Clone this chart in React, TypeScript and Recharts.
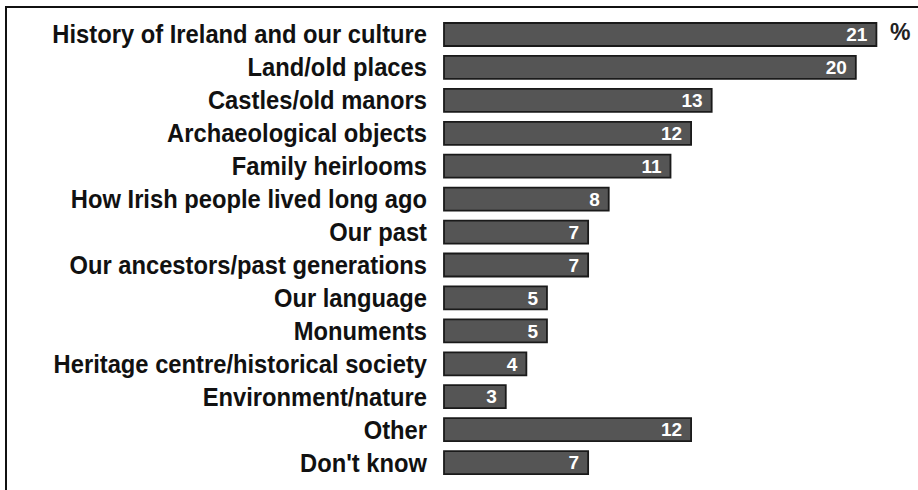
import { BarChart, Bar, XAxis, YAxis, LabelList } from "recharts";

const categories = [
  "History of Ireland and our culture",
  "Land/old places",
  "Castles/old manors",
  "Archaeological objects",
  "Family heirlooms",
  "How Irish people lived long ago",
  "Our past",
  "Our ancestors/past generations",
  "Our language",
  "Monuments",
  "Heritage centre/historical society",
  "Environment/nature",
  "Other",
  "Don't know",
];
const percents = [21, 20, 13, 12, 11, 8, 7, 7, 5, 5, 4, 3, 12, 7];

const data = categories.map((label, i) => ({ label, pct: percents[i] }));

const FONT = "'Liberation Sans', Arial, sans-serif";

// condensed look: ordinary bold face squeezed horizontally
function CondensedTick(props: any) {
  const { x, y, payload } = props;
  return (
    <text
      transform={`translate(${x},${y}) scale(0.95,1)`}
      textAnchor="end"
      dy="0.36em"
      fill="#111"
      fontSize={25}
      fontWeight={700}
      fontFamily={FONT}
    >
      {payload.value}
    </text>
  );
}

export default function App() {
  return (
    <div style={{ position: "absolute", left: 0, top: 0, width: 918, height: 490, background: "#fff", fontFamily: FONT }}>
      <div style={{ position: "absolute", left: 5, top: 6, width: 913, height: 484, borderTop: "2px solid #111", borderLeft: "2px solid #111" }} />
      <div style={{ position: "absolute", left: 890, top: 19, fontSize: 23, fontWeight: 700, color: "#222" }}>%</div>
      <BarChart
        width={918}
        height={490}
        data={data}
        layout="vertical"
        margin={{ top: 18, right: 21, bottom: 11, left: 0 }}
        barSize={23}
      >
        <XAxis type="number" domain={[0, 22]} hide />
        <YAxis
          type="category"
          dataKey="label"
          width={444}
          axisLine={false}
          tickLine={false}
          tickSize={0}
          tickMargin={17}
          interval={0}
          tick={<CondensedTick />}
        />
        <Bar dataKey="pct" fill="#555555" stroke="#1a1a1a" strokeWidth={1.8} isAnimationActive={false}>
          <LabelList
            dataKey="pct"
            position="insideRight"
            offset={9}
            fill="#ffffff"
            style={{ fontSize: 19, fontWeight: 700, fontFamily: FONT }}
          />
        </Bar>
      </BarChart>
    </div>
  );
}
